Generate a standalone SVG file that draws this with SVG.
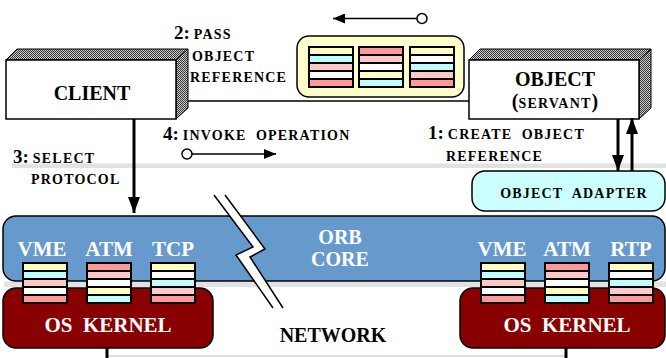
<svg xmlns="http://www.w3.org/2000/svg" xmlns:xlink="http://www.w3.org/1999/xlink" width="666" height="358" viewBox="0 0 666 358">
<style>
text{font-family:"Liberation Serif","Times New Roman",serif;font-weight:bold;fill:#000}
.big{font-size:20px}
.num{font-size:19px}
.sm{font-size:14px;letter-spacing:1.2px}
.wh{fill:#fff;font-size:21px}
.core{fill:#fff;font-size:20px}
.face{fill:#fff;stroke:#000;stroke-width:1.5}
.shade{fill:url(#dither);stroke:#000;stroke-width:1}
.conn{stroke:#000;fill:none}
</style>
<defs>
<pattern id="dither" width="2" height="2" patternUnits="userSpaceOnUse">
<rect width="2" height="2" fill="#c8c8c8"/>
<rect width="1" height="1" fill="#3a3a3a"/>
<rect x="1" y="1" width="1" height="1" fill="#3a3a3a"/>
</pattern>
<marker id="ah" viewBox="0 0 12 10" refX="12" refY="5" markerWidth="12" markerHeight="10" markerUnits="userSpaceOnUse" orient="auto">
<path d="M0,0L12,5L0,10z" fill="#000"/>
</marker>
<marker id="ahb" viewBox="0 0 16 12" refX="16" refY="6" markerWidth="16" markerHeight="12" markerUnits="userSpaceOnUse" orient="auto">
<path d="M0,0L16,6L0,12z" fill="#000"/>
</marker>
<g id="stackA"><rect width="46" height="42" fill="#000"/><rect x="2" y="2" width="42" height="6" fill="#ffffc0"/><rect x="2" y="10" width="42" height="6" fill="#c0ffff"/><rect x="2" y="18" width="42" height="6" fill="#ffc8c8"/><rect x="2" y="26" width="42" height="6" fill="#fff"/><rect x="2" y="34" width="42" height="6" fill="#ff9999"/></g>
<g id="stackB"><rect width="46" height="42" fill="#000"/><rect x="2" y="2" width="42" height="6" fill="#ff9999"/><rect x="2" y="10" width="42" height="6" fill="#ffc8c8"/><rect x="2" y="18" width="42" height="6" fill="#fff"/><rect x="2" y="26" width="42" height="6" fill="#ffffc0"/><rect x="2" y="34" width="42" height="6" fill="#c0ffff"/></g>
<g id="stackC"><rect width="46" height="42" fill="#000"/><rect x="2" y="2" width="42" height="6" fill="#ffffc0"/><rect x="2" y="10" width="42" height="6" fill="#fff"/><rect x="2" y="18" width="42" height="6" fill="#c0ffff"/><rect x="2" y="26" width="42" height="6" fill="#ffc8c8"/><rect x="2" y="34" width="42" height="6" fill="#ff9999"/></g>
</defs>
<rect width="666" height="358" fill="#fff"/>
<!-- separators -->
<rect x="12" y="163.5" width="654" height="4.5" fill="#e2e2e2"/>
<rect x="4" y="281.5" width="662" height="5.5" fill="#e2e2e2"/>

<g id="network">
<line x1="107" y1="356" x2="566" y2="356" stroke="#bdbdbd" stroke-width="1.2"/>
<line x1="107" y1="347" x2="107" y2="358" stroke="#000" stroke-width="3"/>
<line x1="566" y1="347" x2="566" y2="358" stroke="#000" stroke-width="3"/>
<text x="333" y="342" class="big" text-anchor="middle">NETWORK</text>
</g>

<g id="orb-core">
<rect x="3" y="216" width="662" height="65" rx="13" fill="#6699cc" stroke="#000" stroke-width="1.5"/>
<text x="340" y="244" class="core" text-anchor="middle">ORB</text>
<text x="340" y="266" class="core" text-anchor="middle">CORE</text>
</g>

<g id="kernel-left">
<rect x="3" y="288" width="210" height="60" rx="13" fill="#880000" stroke="#000" stroke-width="1.5"/>
<text x="108" y="332" class="wh" text-anchor="middle" xml:space="preserve">OS  KERNEL</text>
</g>
<g id="kernel-right">
<rect x="460" y="288" width="205" height="60" rx="13" fill="#880000" stroke="#000" stroke-width="1.5"/>
<text x="567" y="332" class="wh" text-anchor="middle" xml:space="preserve">OS  KERNEL</text>
</g>

<g id="break">
<polygon points="214,195 253,247 236,255 273,308 283,308 250,257 265,249 225,195" fill="#fff"/>
<polyline points="214,195 253,247 236,255 273,308" class="conn" stroke-width="1.5"/>
<polyline points="225,195 265,249 250,257 283,308" class="conn" stroke-width="1.5"/>
</g>

<g id="protocols-client">
<text x="42" y="256" class="wh" text-anchor="middle">VME</text>
<text x="109" y="256" class="wh" text-anchor="middle">ATM</text>
<text x="173" y="256" class="wh" text-anchor="middle">TCP</text>
<use xlink:href="#stackA" x="22" y="262"/>
<use xlink:href="#stackB" x="86" y="262"/>
<use xlink:href="#stackC" x="150" y="262"/>
</g>
<g id="protocols-server">
<text x="502" y="256" class="wh" text-anchor="middle">VME</text>
<text x="567" y="256" class="wh" text-anchor="middle">ATM</text>
<text x="631" y="256" class="wh" text-anchor="middle">RTP</text>
<use xlink:href="#stackA" x="480" y="262"/>
<use xlink:href="#stackB" x="544" y="262"/>
<use xlink:href="#stackC" x="608" y="262"/>
</g>

<g id="object-adapter">
<rect x="472" y="171" width="193" height="40" rx="13" fill="#ccffff" stroke="#000" stroke-width="1.5"/>
<text x="574" y="198" class="sm" text-anchor="middle" xml:space="preserve">OBJECT  ADAPTER</text>
</g>

<g id="client">
<polygon points="6,60 17,49 188,49 176,60" class="shade"/>
<polygon points="176,60 188,49 188,108 176,119" class="shade"/>
<rect x="6" y="60" width="170" height="59" class="face"/>
<text x="92" y="100" class="big" text-anchor="middle">CLIENT</text>
</g>

<g id="object">
<polygon points="469,60 480,49 651,49 639,60" class="shade"/>
<polygon points="639,60 651,49 651,108 639,119" class="shade"/>
<rect x="469" y="60" width="170" height="59" class="face"/>
<text x="555" y="86" class="big" text-anchor="middle">OBJECT</text>
<text x="555" y="108" text-anchor="middle"><tspan class="big">(</tspan><tspan class="sm">SERVANT</tspan><tspan class="big">)</tspan></text>
</g>

<g id="object-reference">
<rect x="297" y="36" width="167" height="61" rx="12" fill="#ffffcc" stroke="#000" stroke-width="1.5"/>
<use xlink:href="#stackA" x="308" y="46"/>
<use xlink:href="#stackB" x="358" y="46"/>
<use xlink:href="#stackC" x="409" y="46"/>
</g>

<g id="connectors">
<line x1="188" y1="101" x2="469" y2="101" stroke="#000" stroke-width="1.5"/>
<line x1="417" y1="18.5" x2="333" y2="18.5" stroke="#000" stroke-width="1.5" marker-end="url(#ah)"/>
<circle cx="422" cy="18.5" r="5" fill="#fff" stroke="#000" stroke-width="1.5"/>
<line x1="192" y1="154" x2="276" y2="154" stroke="#000" stroke-width="1.5" marker-end="url(#ah)"/>
<circle cx="187" cy="154" r="5" fill="#fff" stroke="#000" stroke-width="1.5"/>
<line x1="134" y1="119" x2="134" y2="213" stroke="#000" stroke-width="3" marker-end="url(#ahb)"/>
<line x1="618" y1="119" x2="618" y2="171" stroke="#000" stroke-width="3" marker-end="url(#ahb)"/>
<line x1="632" y1="171" x2="632" y2="118" stroke="#000" stroke-width="3" marker-end="url(#ahb)"/>
</g>

<g id="labels">
<text x="174" y="39"><tspan class="num">2:</tspan><tspan class="sm" dx="4">PASS</tspan></text>
<text x="192" y="61" class="sm">OBJECT</text>
<text x="190" y="82" class="sm">REFERENCE</text>
<text x="163" y="140" xml:space="preserve"><tspan class="num">4:</tspan><tspan class="sm" dx="4">INVOKE  OPERATION</tspan></text>
<text x="13" y="163"><tspan class="num">3:</tspan><tspan class="sm" dx="4">SELECT</tspan></text>
<text x="31" y="184" class="sm">PROTOCOL</text>
<text x="428" y="139" xml:space="preserve"><tspan class="num">1:</tspan><tspan class="sm" dx="4">CREATE  OBJECT</tspan></text>
<text x="446" y="161" class="sm">REFERENCE</text>
</g>
</svg>
